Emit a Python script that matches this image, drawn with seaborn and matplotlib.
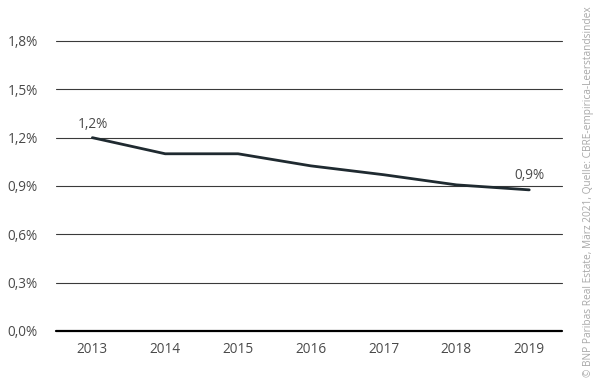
import pandas as pd
import matplotlib.pyplot as plt
import seaborn as sns
from matplotlib.ticker import FuncFormatter

# Leerstandsquote (%) per year
years = ['2013', '2014', '2015', '2016', '2017', '2018', '2019']
vacancy = [1.20, 1.10, 1.10, 1.025, 0.97, 0.907, 0.876]
y_ticks = [0.0, 0.3, 0.6, 0.9, 1.2, 1.5, 1.8]

df = pd.DataFrame({'year': years, 'vacancy': vacancy})
df['pos'] = range(len(df))

sns.set_style('white')
plt.rcParams['font.family'] = ['Open Sans', 'DejaVu Sans']

fig = plt.figure(figsize=(6, 3.85), dpi=100)
ax = fig.add_axes([56 / 600, 1 - 331 / 385, 506 / 600, 290 / 385])

# horizontal gridlines
for t in y_ticks:
    ax.axhline(t, color='black' if t == 0 else '#3a3a3a',
               lw=1.6 if t == 0 else 0.8, zorder=1, clip_on=False)

sns.lineplot(data=df, x='pos', y='vacancy', color='#1f2a30', lw=2.0, ax=ax, zorder=3)

ax.set_xlim(-0.5, 6.45)
ax.set_ylim(0, 1.8)
ax.set_xticks(df['pos'])
ax.set_xticklabels(years)
ax.set_yticks(y_ticks)
ax.yaxis.set_major_formatter(FuncFormatter(lambda v, _: f'{v:.1f}%'.replace('.', ',')))
ax.tick_params(axis='both', length=0, labelsize=9.8, labelcolor='#4a4a4a')
ax.tick_params(axis='y', pad=13)
ax.tick_params(axis='x', pad=8)
ax.set_xlabel('')
ax.set_ylabel('')
sns.despine(ax=ax, left=True, bottom=True)

# value labels at the ends
first, last = df.iloc[0], df.iloc[-1]
ax.text(first['pos'], first['vacancy'] + 0.035, f"{first['vacancy']:.1f}%".replace('.', ','),
        ha='center', va='bottom', fontsize=9.8, color='#4a4a4a')
ax.text(last['pos'], last['vacancy'] + 0.045, f"{last['vacancy']:.1f}%".replace('.', ','),
        ha='center', va='bottom', fontsize=9.8, color='#4a4a4a')

fig.text(588 / 600, 0.02,
         '© BNP Paribas Real Estate, März 2021, Quelle: CBRE-empirica-Leerstandsindex',
         rotation=90, ha='center', va='bottom', fontsize=7.3, color='#a8a8a8')

fig.savefig('out.png', dpi=100)
